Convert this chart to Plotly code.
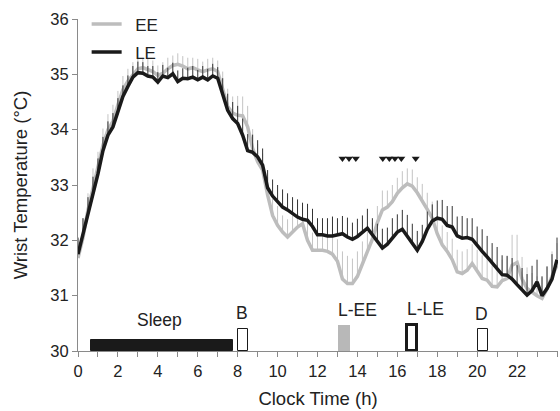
import numpy as np
import plotly.graph_objects as go

# ---- data ----
hours = [i * 0.25 for i in range(97)]  # 0 .. 24 h, 15-min resolution

le_temp = [31.75, 32.1, 32.5, 32.85, 33.2, 33.62, 33.9, 34.05, 34.35, 34.6, 34.78, 34.95, 35.03,
           35.02, 34.97, 34.95, 34.86, 34.97, 34.94, 35.01, 34.87, 34.93, 34.92, 34.95, 34.9, 34.95, 34.9, 34.97, 34.93,
           34.65, 34.35, 34.2, 34.11, 33.9, 33.62, 33.59, 33.51,
           33.36, 32.95, 32.8, 32.7, 32.6, 32.55, 32.48, 32.42, 32.38, 32.36, 32.25, 32.1,
           32.1, 32.08, 32.08, 32.1, 32.12, 32.06, 32.02, 32.07, 32.15, 32.22, 32.1, 31.98,
           31.86, 31.93, 32.05, 32.15, 32.2, 32.08, 31.95, 31.82, 31.98, 32.2, 32.35, 32.4,
           32.38, 32.27, 32.24, 32.08, 32.04, 32.05, 32.02, 31.9, 31.8, 31.7, 31.6, 31.5,
           31.38, 31.37, 31.3, 31.2, 31.1, 31.01, 31.09, 31.25, 31.0, 31.13, 31.3, 31.65]

ee_temp = [31.68, 32.05, 32.55, 32.95, 33.3, 33.72, 34.0, 34.15, 34.45, 34.72, 34.88, 35.0, 35.1,
           35.12, 35.08, 35.05, 34.98, 35.02, 35.1, 35.16, 35.18, 35.15, 35.1, 35.12, 35.08, 35.05, 35.08, 35.1, 35.05,
           34.75, 34.42, 34.3, 34.26, 34.25, 34.05, 33.66, 33.42,
           33.27, 32.82, 32.45, 32.27, 32.15, 32.06, 32.15, 32.24, 32.3, 32.0, 31.82, 31.82,
           31.82, 31.8, 31.75, 31.62, 31.3, 31.22, 31.22, 31.35, 31.58, 31.8, 32.02, 32.32,
           32.55, 32.6, 32.7, 32.85, 32.95, 33.02, 32.98, 32.86, 32.72, 32.56, 32.4, 32.12,
           31.92, 31.8, 31.65, 31.43, 31.4, 31.46, 31.58, 31.43, 31.31, 31.28, 31.17, 31.16,
           31.27, 31.31, 31.55, 31.6, 31.3, 31.13, 31.06, 31.0, 30.95, 31.12, 31.35, 31.55]

le_err = [0.3, 0.3, 0.28, 0.3, 0.28, 0.25, 0.25, 0.25, 0.22, 0.2, 0.2, 0.2, 0.2,
          0.2, 0.18, 0.2, 0.18, 0.2, 0.18, 0.2, 0.2, 0.18, 0.2, 0.2, 0.18, 0.2, 0.2, 0.22, 0.2,
          0.28, 0.3, 0.3, 0.32, 0.3, 0.3, 0.32, 0.3,
          0.3, 0.32, 0.3, 0.3, 0.32, 0.3, 0.3, 0.32, 0.3, 0.3, 0.32, 0.3,
          0.3, 0.32, 0.35, 0.3, 0.32, 0.35, 0.3, 0.32, 0.3, 0.35, 0.3, 0.32,
          0.35, 0.3, 0.35, 0.32, 0.35, 0.38, 0.35, 0.35, 0.3, 0.32, 0.3, 0.32,
          0.35, 0.35, 0.38, 0.35, 0.4, 0.35, 0.38, 0.35, 0.4, 0.38, 0.35, 0.38,
          0.35, 0.35, 0.38, 0.35, 0.4, 0.38, 0.45, 0.4, 0.35, 0.4, 0.45, 0.4]

ee_err = [0.35, 0.35, 0.3, 0.35, 0.3, 0.3, 0.28, 0.3, 0.25, 0.25, 0.22, 0.22, 0.2,
          0.18, 0.2, 0.2, 0.18, 0.2, 0.2, 0.18, 0.2, 0.18, 0.2, 0.18, 0.2, 0.18, 0.2, 0.2, 0.2,
          0.3, 0.32, 0.3, 0.35, 0.35, 0.38, 0.35, 0.32,
          0.3, 0.32, 0.3, 0.35, 0.3, 0.32, 0.3, 0.28, 0.3, 0.35, 0.32, 0.3,
          0.3, 0.32, 0.35, 0.4, 0.5, 0.5, 0.45, 0.45, 0.4, 0.35, 0.3, 0.3,
          0.35, 0.3, 0.3, 0.28, 0.3, 0.28, 0.3, 0.28, 0.3, 0.3, 0.3, 0.32,
          0.35, 0.35, 0.38, 0.4, 0.4, 0.38, 0.35, 0.4, 0.42, 0.4, 0.38, 0.4,
          0.38, 0.4, 0.55, 0.5, 0.4, 0.38, 0.35, 0.35, 0.38, 0.4, 0.45, 0.4]

# significant differences (triangles)
sig_hours = [13.25, 13.58, 13.92, 15.27, 15.6, 15.88, 16.2, 16.92]
sig_level = 33.48

# events
event_labels = ["Sleep", "B", "L-EE", "L-LE", "D"]
event_start = [0.67, 8.0, 13.05, 16.5, 20.05]
event_end = [7.75, 8.5, 13.65, 17.0, 20.55]
event_height = [0.2, 0.4, 0.47, 0.47, 0.4]
event_fill = ["#1a1a1a", "white", "#b8b8b8", "white", "white"]
event_edge = ["#1a1a1a", "#1a1a1a", "#b8b8b8", "#1a1a1a", "#1a1a1a"]
event_edge_w = [1, 1, 0, 3, 1]
label_x = [4.1, 8.2, 14.0, 17.4, 20.2]
label_y = [30.56, 30.69, 30.74, 30.76, 30.66]

series_names = ["EE", "LE"]

base_temp = 30

FONT = "Liberation Sans, Arial, sans-serif"
GRAY = "#bdbdbd"
BLACK = "#1a1a1a"
TXT = "#222222"
PAD = "\u2002"  # en space to widen the gap between legend line and text

fig = go.Figure()

# event bars
mid = [(s + e) / 2 for s, e in zip(event_start, event_end)]
wid = [e - s for s, e in zip(event_start, event_end)]
fig.add_trace(go.Bar(
    x=mid, y=event_height, base=base_temp, width=wid,
    marker=dict(color=event_fill, line=dict(color=event_edge, width=event_edge_w)),
    showlegend=False, hoverinfo="skip",
))

zeros = [0] * len(hours)
fig.add_trace(go.Scatter(
    x=hours, y=ee_temp, mode="lines", name=PAD + series_names[0], legendgroup="ee",
    line=dict(color=GRAY, width=3.5),
    error_y=dict(type="data", array=ee_err, arrayminus=zeros, symmetric=False,
                 width=0, thickness=1, color="#c4c4c4"),
))
fig.add_trace(go.Scatter(
    x=hours, y=le_temp, mode="lines", name=PAD + series_names[1], legendgroup="le",
    line=dict(color=BLACK, width=3.5),
    error_y=dict(type="data", array=le_err, arrayminus=zeros, symmetric=False,
                 width=0, thickness=1, color="#333333"),
))
fig.add_trace(go.Scatter(
    x=sig_hours, y=[sig_level] * len(sig_hours), mode="markers",
    marker=dict(symbol="triangle-down", size=7, color=BLACK),
    showlegend=False, hoverinfo="skip",
))

for lab, lx, ly in zip(event_labels, label_x, label_y):
    fig.add_annotation(x=lx, y=ly, text=lab, showarrow=False,
                       font=dict(family=FONT, size=17.5, color=TXT))

axis_col = "#8a8a8a"
fig.update_xaxes(
    range=[0, 24.05], tickvals=list(range(0, 24, 2)), ticks="outside", ticklen=5,
    tickcolor=axis_col, showline=True, linecolor=axis_col, linewidth=1,
    showgrid=False, zeroline=False,
    minor=dict(dtick=1, tick0=0, ticks="outside", ticklen=5, tickcolor=axis_col, showgrid=False),
    tickfont=dict(family=FONT, size=16.5, color=TXT),
    title=dict(text="Clock Time (h)", font=dict(family=FONT, size=18.5, color=TXT), standoff=13),
)
fig.update_yaxes(
    range=[30, 36], dtick=1, ticks="outside", ticklen=5, tickcolor=axis_col,
    showline=True, linecolor=axis_col, linewidth=1, showgrid=False, zeroline=False,
    tickfont=dict(family=FONT, size=16.5, color=TXT),
    title=dict(text="Wrist Temperature (°C)", font=dict(family=FONT, size=18.5, color=TXT), standoff=17),
)

fig.update_layout(
    width=560, height=411,
    margin=dict(l=78, r=2, t=19, b=60),
    plot_bgcolor="white", paper_bgcolor="white",
    showlegend=True,
    legend=dict(x=0.018, y=1.038, xanchor="left", yanchor="top", tracegroupgap=3,
                bgcolor="rgba(0,0,0,0)", font=dict(family=FONT, size=17, color=TXT)),
    bargap=0,
)

fig.write_html("out.html")
